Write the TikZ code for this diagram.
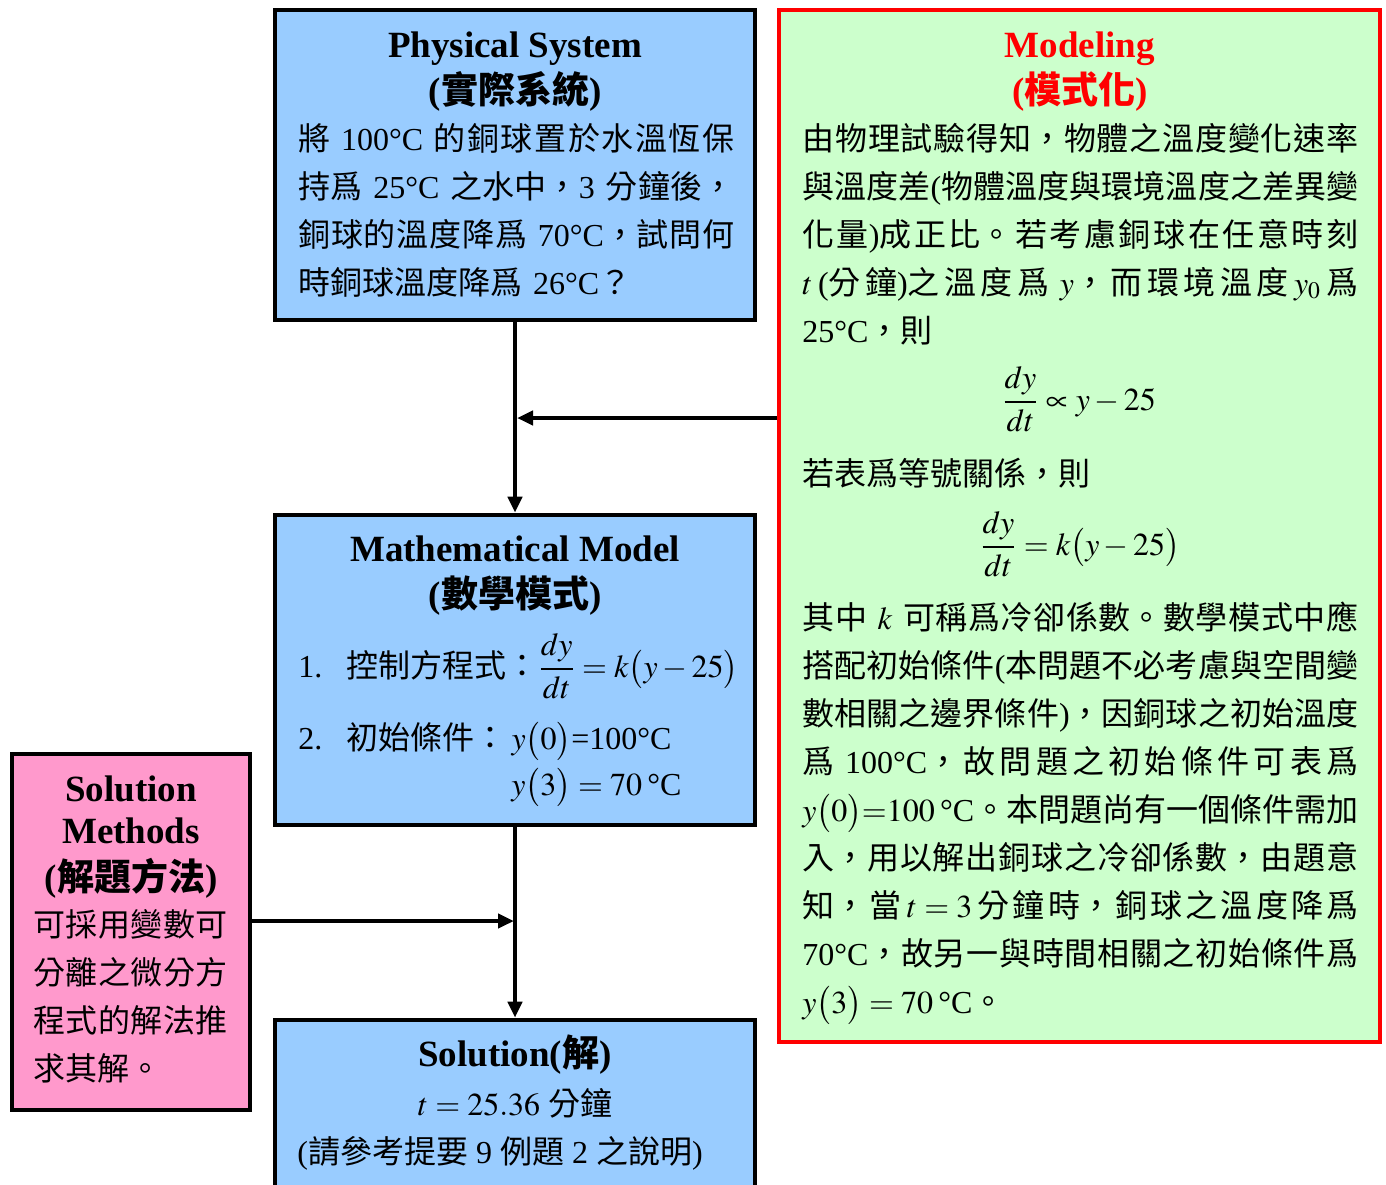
\documentclass[tikz,border=0pt]{standalone}
\usepackage{amsmath}
\usepackage{mathptmx}
\usepackage[no-math]{fontspec}
\setmainfont{Liberation Serif}
\newfontfamily\cjk{Noto Sans CJK TC}
\usetikzlibrary{arrows.meta}
\definecolor{boxblue}{HTML}{99CCFF}
\definecolor{boxgreen}{HTML}{CCFFCC}
\definecolor{boxpink}{HTML}{FF99CC}
\definecolor{boxred}{HTML}{FF0000}
\newcommand\zh[1]{{\cjk #1}}
\XeTeXlinebreaklocale "zh"
\XeTeXlinebreakskip = 0pt plus 1fil minus 0.4pt
\tikzset{
  frame/.style={draw=black, line width=2.3pt, inner sep=0pt, minimum width=#1},
  redframe/.style={draw=boxred, line width=2pt, inner sep=0pt, fill=boxgreen},
  titletext/.style={font=\fontsize{18.5}{22}\selectfont\bfseries, anchor=base, inner sep=0pt},
  bodytext/.style={font=\fontsize{16}{24}\selectfont, inner sep=0pt},
  para/.style={bodytext, text width=#1, anchor=base west,
    execute at begin node={\parfillskip=0pt plus 1fill\relax}},
  conn/.style={line width=2pt, -{Triangle[length=8pt,width=7pt]}}
}
\begin{document}
\begin{tikzpicture}[x=0.5pt,y=-0.5pt]
\useasboundingbox (0,0) rectangle (1386,1184);
\clip (0,0) rectangle (1386,1184);

% boxes
\node[frame=240pt, fill=boxblue, minimum height=155pt] (phys) at (515,165) {};
\node[frame=240pt, fill=boxblue, minimum height=155pt] (math) at (515,670) {};
\node[frame=240pt, fill=boxblue, minimum height=95pt] (sol) at (515,1115) {};
\node[frame=119pt, fill=boxpink, minimum height=178pt] (meth) at (131,932) {};
\node[redframe, minimum width=300.5pt, minimum height=516pt] (model) at (1079.5,526) {};

% connectors
\coordinate (j1) at (517,418);
\coordinate (j2) at (514,921);
\draw[conn] (phys.south) -- (math.north);
\draw[conn] (model.west |- j1) -- (j1);
\draw[conn] (math.south) -- (sol.north);
\draw[conn] (meth.east |- j2) -- (j2);

% Physical System
\node[titletext] (phys-t1) at (515,57) {Physical System};
\node[titletext] (phys-t2) at (515,103) {(\zh{實際系統})};
\node[para=218pt] (phys-b) at (298,150) {%
\zh{將} 100°C \zh{的銅球置於水溫恆保}\linebreak
\zh{持爲} 25°C \zh{之水中，}3 \zh{分鐘後，}\linebreak
\zh{銅球的溫度降爲} 70°C\zh{，試問何}\linebreak
\zh{時銅球溫度降爲} 26°C\zh{？}};

% Modeling
\node[titletext, text=boxred] (mod-t1) at (1080,57) {Modeling};
\node[titletext, text=boxred] (mod-t2) at (1080,103) {(\zh{模式化})};
\node[para=278pt] (mod-b1) at (802,150) {%
\zh{由物理試驗得知，物體之溫度變化速率}\linebreak
\zh{與溫度差}(\zh{物體溫度與環境溫度之差異變}\linebreak
\zh{化量})\zh{成正比。若考慮銅球在任意時刻}\linebreak
$t$\,(\zh{分鐘})\zh{之溫度爲} $y$\zh{，而環境溫度}\,$y_0$\,\zh{爲}\linebreak
25°C\zh{，則}};
\node[bodytext, anchor=base] (f1) at (1079,410) {$\displaystyle\frac{dy}{dt}\propto y-25$};
\node[bodytext, anchor=base west] (mod-b2) at (802,485) {\zh{若表爲等號關係，則}};
\node[bodytext, anchor=base] (f2) at (1080,555) {$\displaystyle\frac{dy}{dt}=k\bigl(y-25\bigr)$};
\node[para=278pt] (mod-b3) at (802,629) {%
\zh{其中} $k$ \zh{可稱爲冷卻係數。數學模式中應}\linebreak
\zh{搭配初始條件}(\zh{本問題不必考慮與空間變}\linebreak
\zh{數相關之邊界條件})\zh{，因銅球之初始溫度}\linebreak
\zh{爲} 100°C\zh{，故問題之初始條件可表爲}\linebreak
\,$y\bigl(0\bigr){=}100$\,°C\zh{。本問題尚有一個條件需加}\linebreak
\zh{入，用以解出銅球之冷卻係數，由題意}\linebreak
\zh{知，當}\,$t=3$\,\zh{分鐘時，銅球之溫度降爲}\linebreak
70°C\zh{，故另一與時間相關之初始條件爲}\linebreak
\,$y\bigl(3\bigr)=70$\,°C\zh{。}};

% Mathematical Model
\node[titletext] (math-t1) at (515,561) {Mathematical Model};
\node[titletext] (math-t2) at (515,607) {(\zh{數學模式})};
\node[bodytext, anchor=base west] (math-1) at (298,677) {\makebox[24pt][l]{1.}\zh{控制方程式：}$\displaystyle\frac{dy}{dt}=k\bigl(y-25\bigr)$};
\node[bodytext, anchor=base west] (math-2) at (298,749) {\makebox[24pt][l]{2.}\zh{初始條件：}\,$y\bigl(0\bigr)$=100°C};
\node[bodytext, anchor=base west] (math-3) at (511,795) {$y\bigl(3\bigr)=70$\,°C};

% Solution Methods
\node[titletext] (meth-t1) at (131,801) {Solution};
\node[titletext] (meth-t2) at (131,843) {Methods};
\node[titletext] (meth-t3) at (131,890) {(\zh{解題方法})};
\node[para=97pt] (meth-b) at (33,936) {%
\zh{可採用變數可}\linebreak
\zh{分離之微分方}\linebreak
\zh{程式的解法推}\linebreak
\zh{求其解。}};

% Solution
\node[titletext] (sol-t1) at (515,1066) {Solution(\zh{解})};
\node[bodytext, anchor=base] (sol-1) at (515,1115) {$t=25.36$ \zh{分鐘}};
\node[bodytext, anchor=base] (sol-2) at (500,1163) {(\zh{請參考提要} 9 \zh{例題} 2 \zh{之說明})};
\end{tikzpicture}
\end{document}
